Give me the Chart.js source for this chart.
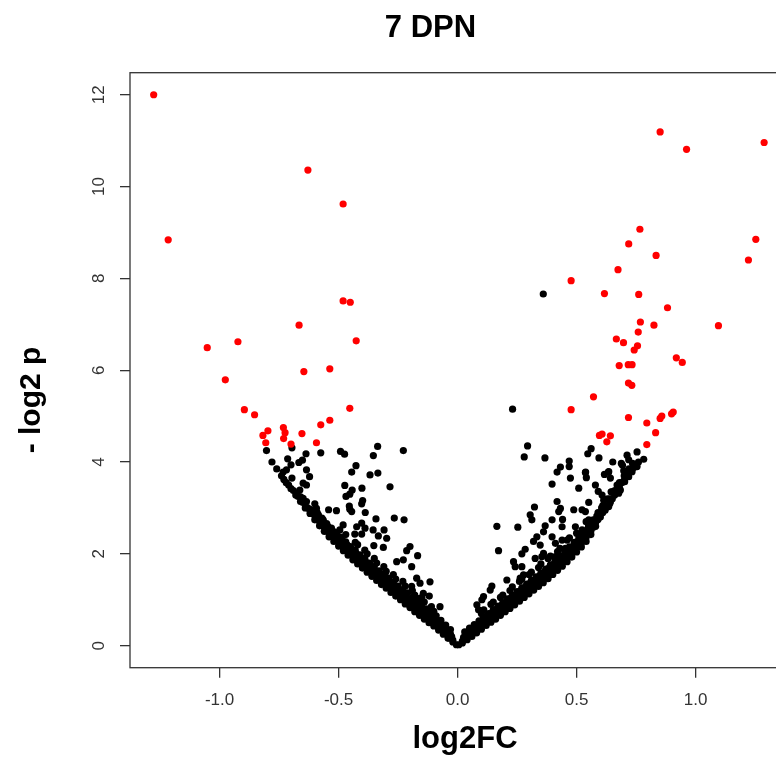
<!DOCTYPE html>
<html>
<head>
<meta charset="utf-8">
<title>7 DPN</title>
<script src="https://cdn.jsdelivr.net/npm/chart.js@4.4.1/dist/chart.umd.min.js"></script>
<style>
  html, body { margin: 0; padding: 0; background: #fff; overflow: hidden; }
  #wrap { width: 776px; height: 760px; overflow: hidden; }
</style>
</head>
<body>
<div id="wrap"><canvas id="chart" width="820" height="760"></canvas></div>
<script>
// Volcano plot 7 DPN: log2FC gegen -log2 p, rot = signifikant.
const TITLE = '7 DPN';
const X_LABEL = 'log2FC';
const Y_LABEL = '- log2 p';

const xTicks = [-1.0, -0.5, 0.0, 0.5, 1.0];
const yTicks = [0, 2, 4, 6, 8, 10, 12];
const X_MIN = -1.3765, X_MAX = 1.4387;
const Y_MIN = -0.48, Y_MAX = 12.48;

// signifikant, herunterreguliert [log2FC, -log2 p]
const sigDown = [
  [-1.277, 12.00], [-0.629, 10.36], [-0.481, 9.62], [-1.216, 8.84], [-0.481, 7.51], [-0.451, 7.48],
  [-0.666, 6.98], [-0.923, 6.62], [-1.052, 6.49], [-0.426, 6.64], [-0.646, 5.97], [-0.537, 6.03],
  [-0.976, 5.79], [-0.896, 5.14], [-0.853, 5.03], [-0.453, 5.17], [-0.537, 4.91], [-0.575, 4.81],
  [-0.797, 4.68], [-0.818, 4.58], [-0.732, 4.75], [-0.725, 4.64], [-0.731, 4.51], [-0.806, 4.42],
  [-0.654, 4.62], [-0.700, 4.39], [-0.593, 4.42]
];
// signifikant, hochreguliert
const sigUp = [
  [0.851, 11.19], [0.962, 10.81], [1.288, 10.96], [0.766, 9.07], [0.719, 8.75], [0.834, 8.50],
  [1.253, 8.85], [1.222, 8.40], [0.674, 8.19], [0.477, 7.95], [0.617, 7.67], [0.761, 7.65],
  [0.882, 7.36], [0.768, 7.05], [0.825, 6.98], [1.096, 6.97], [0.759, 6.83], [0.667, 6.68],
  [0.697, 6.60], [0.756, 6.53], [0.742, 6.44], [0.919, 6.27], [0.944, 6.17], [0.679, 6.10],
  [0.717, 6.12], [0.733, 6.12], [0.718, 5.72], [0.732, 5.67], [0.571, 5.42], [0.477, 5.14],
  [0.718, 4.97], [0.795, 4.85], [0.851, 4.95], [0.858, 5.00], [0.899, 5.05], [0.906, 5.09],
  [0.832, 4.64], [0.596, 4.58], [0.607, 4.61], [0.642, 4.57], [0.627, 4.44], [0.795, 4.38]
];
// nicht signifikant, links
const nsLeft = [
  [-0.803, 4.25], [-0.696, 4.31], [-0.637, 4.18], [-0.575, 4.20], [-0.492, 4.23], [-0.475, 4.17],
  [-0.336, 4.34], [-0.354, 4.14], [-0.228, 4.25], [-0.714, 4.07], [-0.700, 3.94], [-0.667, 3.99],
  [-0.652, 4.04], [-0.635, 3.83], [-0.427, 3.92], [-0.445, 3.78], [-0.368, 3.72], [-0.335, 3.76],
  [-0.733, 3.78], [-0.696, 3.65], [-0.622, 3.68], [-0.719, 3.83], [-0.649, 3.54], [-0.635, 3.50],
  [-0.663, 3.39], [-0.677, 3.32], [-0.649, 3.21], [-0.635, 3.14], [-0.284, 3.46], [-0.474, 3.49],
  [-0.443, 3.39], [-0.402, 3.43], [-0.469, 3.25], [-0.453, 3.30], [-0.399, 3.16], [-0.403, 3.09],
  [-0.455, 3.04], [-0.445, 2.92], [-0.453, 2.97], [-0.388, 2.90], [-0.343, 2.76], [-0.266, 2.78],
  [-0.225, 2.74], [-0.542, 2.96], [-0.509, 2.94], [-0.600, 3.09], [-0.593, 2.99], [-0.586, 2.81],
  [-0.565, 2.74], [-0.481, 2.63], [-0.495, 2.52], [-0.424, 2.59], [-0.403, 2.67], [-0.389, 2.56],
  [-0.432, 2.43], [-0.403, 2.43], [-0.355, 2.52], [-0.333, 2.39], [-0.309, 2.52], [-0.298, 2.34],
  [-0.352, 2.18], [-0.312, 2.14], [-0.200, 2.16], [-0.214, 2.07], [-0.168, 1.96], [-0.228, 1.87],
  [-0.256, 1.83], [-0.193, 1.72], [-0.116, 1.39], [-0.119, 1.08], [-0.074, 0.85], [-0.319, 1.50],
  [-0.305, 1.58], [-0.172, 1.47], [-0.193, 1.29], [-0.158, 1.36], [-0.144, 1.14], [-0.158, 1.03],
  [-0.005, 0.02], [-0.02, 0.08], [-0.02, 0.12], [-0.025, 0.20], [-0.04, 0.16], [-0.04, 0.22], [-0.045, 0.30],
  [-0.06, 0.25], [-0.06, 0.32], [-0.065, 0.45], [-0.08, 0.34], [-0.08, 0.40], [-0.085, 0.55],
  [-0.10, 0.43], [-0.10, 0.50], [-0.105, 0.62], [-0.10, 0.75], [-0.12, 0.50], [-0.12, 0.58], [-0.125, 0.70],
  [-0.14, 0.58], [-0.14, 0.66], [-0.145, 0.80], [-0.14, 0.95], [-0.16, 0.66], [-0.16, 0.74], [-0.165, 0.86],
  [-0.18, 0.74], [-0.18, 0.82], [-0.185, 0.95], [-0.18, 1.10], [-0.20, 0.83], [-0.20, 0.92], [-0.205, 1.02],
  [-0.22, 0.91], [-0.22, 1.00], [-0.225, 1.12], [-0.22, 1.30], [-0.24, 1.00], [-0.24, 1.08], [-0.245, 1.20],
  [-0.26, 1.08], [-0.26, 1.17], [-0.265, 1.30], [-0.26, 1.45], [-0.28, 1.16], [-0.28, 1.25], [-0.285, 1.38],
  [-0.30, 1.25], [-0.30, 1.34], [-0.305, 1.46], [-0.30, 1.62], [-0.32, 1.33], [-0.32, 1.42], [-0.325, 1.55],
  [-0.34, 1.42], [-0.34, 1.50], [-0.345, 1.63], [-0.34, 1.80], [-0.36, 1.51], [-0.36, 1.60], [-0.365, 1.72],
  [-0.38, 1.60], [-0.38, 1.69], [-0.385, 1.82], [-0.38, 2.00], [-0.40, 1.69], [-0.40, 1.78], [-0.405, 1.90],
  [-0.42, 1.78], [-0.42, 1.87], [-0.425, 2.00], [-0.42, 2.20], [-0.44, 1.87], [-0.44, 1.96], [-0.445, 2.10],
  [-0.46, 1.97], [-0.46, 2.06], [-0.465, 2.20], [-0.48, 2.07], [-0.48, 2.16], [-0.485, 2.30],
  [-0.50, 2.17], [-0.50, 2.26], [-0.505, 2.40], [-0.52, 2.27], [-0.52, 2.36], [-0.525, 2.50],
  [-0.54, 2.37], [-0.54, 2.46], [-0.545, 2.60], [-0.56, 2.49], [-0.56, 2.58], [-0.565, 2.72],
  [-0.58, 2.61], [-0.58, 2.70], [-0.585, 2.85], [-0.60, 2.74], [-0.60, 2.83], [-0.62, 2.88], [-0.62, 2.97],
  [-0.64, 3.00], [-0.64, 3.10], [-0.66, 3.14], [-0.66, 3.24], [-0.68, 3.28], [-0.70, 3.42],
  [-0.72, 3.55], [-0.74, 3.70], [-0.76, 3.85], [-0.78, 4.00],
  [-0.03, 0.25], [-0.03, 0.35], [-0.05, 0.33], [-0.05, 0.45], [-0.07, 0.42], [-0.07, 0.55],
  [-0.09, 0.50], [-0.09, 0.65], [-0.11, 0.58], [-0.11, 0.72], [-0.11, 0.85], [-0.13, 0.66], [-0.13, 0.80],
  [-0.15, 0.75], [-0.15, 0.90], [-0.15, 1.05], [-0.17, 0.83], [-0.17, 0.98], [-0.19, 0.90], [-0.19, 1.05],
  [-0.19, 1.20], [-0.21, 0.98], [-0.21, 1.15], [-0.23, 1.06], [-0.23, 1.22], [-0.23, 1.40], [-0.25, 1.14],
  [-0.25, 1.30], [-0.27, 1.22], [-0.27, 1.38], [-0.27, 1.55], [-0.29, 1.30], [-0.29, 1.47], [-0.31, 1.38],
  [-0.31, 1.55], [-0.31, 1.72], [-0.33, 1.47], [-0.33, 1.63], [-0.35, 1.55], [-0.35, 1.72], [-0.35, 1.90],
  [-0.37, 1.64], [-0.37, 1.80], [-0.39, 1.73], [-0.39, 1.90], [-0.39, 2.08], [-0.41, 1.82], [-0.41, 1.98],
  [-0.43, 1.91], [-0.43, 2.08], [-0.43, 2.25], [-0.45, 2.00], [-0.45, 2.16], [-0.47, 2.10], [-0.47, 2.26],
  [-0.47, 2.42], [-0.49, 2.20], [-0.49, 2.36], [-0.51, 2.30], [-0.51, 2.46], [-0.53, 2.40], [-0.53, 2.56],
  [-0.55, 2.50], [-0.55, 2.66], [-0.57, 2.62], [-0.57, 2.78], [-0.59, 2.75], [-0.59, 2.90], [-0.61, 2.88],
  [-0.63, 3.00], [-0.65, 3.12], [-0.67, 3.25], [-0.69, 3.38], [-0.71, 3.50], [-0.73, 3.62]
];
// nicht signifikant, rechts
const nsRight = [
  [0.360, 7.66], [0.231, 5.15], [0.294, 4.35], [0.280, 4.11], [0.367, 4.09], [0.469, 4.02],
  [0.469, 3.90], [0.432, 3.89], [0.418, 3.78], [0.547, 4.18], [0.561, 4.29], [0.594, 4.09],
  [0.652, 4.00], [0.712, 4.15], [0.754, 4.22], [0.782, 4.06], [0.693, 3.93], [0.735, 3.97],
  [0.754, 3.90], [0.538, 3.78], [0.634, 3.78], [0.617, 3.73], [0.698, 3.81], [0.397, 3.52],
  [0.474, 3.65], [0.509, 3.43], [0.537, 3.77], [0.541, 3.66], [0.579, 3.50], [0.688, 3.97],
  [0.719, 4.05], [0.635, 3.79], [0.642, 3.65], [0.702, 3.57], [0.719, 3.68], [0.733, 3.79],
  [0.591, 3.36], [0.607, 3.28], [0.614, 3.17], [0.635, 3.03], [0.642, 3.14], [0.677, 3.32],
  [0.684, 3.39], [0.523, 2.96], [0.537, 2.92], [0.551, 3.12], [0.488, 2.96], [0.418, 3.14],
  [0.432, 2.99], [0.425, 2.92], [0.323, 3.02], [0.305, 2.85], [0.312, 2.74], [0.397, 2.74],
  [0.441, 2.75], [0.368, 2.61], [0.361, 2.48], [0.165, 2.60], [0.253, 2.58], [0.333, 2.37],
  [0.319, 2.27], [0.347, 2.19], [0.361, 2.01], [0.326, 1.90], [0.354, 1.94], [0.284, 2.10],
  [0.270, 2.00], [0.172, 2.07], [0.235, 1.83], [0.242, 1.72], [0.270, 1.72], [0.277, 1.54],
  [0.263, 1.47], [0.207, 1.43], [0.144, 1.30], [0.137, 1.21], [0.109, 1.07], [0.102, 1.00],
  [0.081, 0.89], [0.088, 0.78], [0.397, 2.37], [0.411, 2.23], [0.439, 2.30], [0.453, 2.12],
  [0.411, 1.94], [0.453, 1.94], [0.439, 2.59], [0.495, 2.59], [0.523, 2.52], [0.551, 2.74], [0.565, 2.67],
  [0.005, 0.02], [0.02, 0.06], [0.02, 0.10], [0.025, 0.18], [0.04, 0.13], [0.04, 0.20], [0.045, 0.28],
  [0.06, 0.20], [0.06, 0.27], [0.065, 0.38], [0.08, 0.28], [0.08, 0.35], [0.085, 0.46],
  [0.10, 0.36], [0.10, 0.44], [0.105, 0.56], [0.10, 0.70], [0.12, 0.44], [0.12, 0.52], [0.125, 0.64],
  [0.14, 0.51], [0.14, 0.60], [0.145, 0.72], [0.14, 0.90], [0.16, 0.58], [0.16, 0.67], [0.165, 0.80],
  [0.18, 0.66], [0.18, 0.74], [0.185, 0.88], [0.18, 1.05], [0.20, 0.74], [0.20, 0.82], [0.205, 0.95],
  [0.22, 0.81], [0.22, 0.90], [0.225, 1.04], [0.22, 1.20], [0.24, 0.89], [0.24, 0.98], [0.245, 1.10],
  [0.26, 0.97], [0.26, 1.06], [0.265, 1.20], [0.26, 1.40], [0.28, 1.05], [0.28, 1.14], [0.285, 1.28],
  [0.30, 1.13], [0.30, 1.22], [0.305, 1.36], [0.30, 1.55], [0.32, 1.21], [0.32, 1.30], [0.325, 1.44],
  [0.34, 1.29], [0.34, 1.38], [0.345, 1.52], [0.34, 1.70], [0.36, 1.37], [0.36, 1.46], [0.365, 1.60],
  [0.38, 1.46], [0.38, 1.55], [0.385, 1.70], [0.38, 1.90], [0.40, 1.55], [0.40, 1.64], [0.405, 1.78],
  [0.42, 1.64], [0.42, 1.73], [0.425, 1.88], [0.42, 2.05], [0.44, 1.73], [0.44, 1.82], [0.445, 1.96],
  [0.46, 1.83], [0.46, 1.92], [0.465, 2.06], [0.46, 2.30], [0.48, 1.93], [0.48, 2.02], [0.485, 2.16],
  [0.50, 2.04], [0.50, 2.13], [0.505, 2.28], [0.50, 2.45], [0.52, 2.15], [0.52, 2.24], [0.525, 2.40],
  [0.54, 2.27], [0.54, 2.36], [0.545, 2.52], [0.54, 2.70], [0.56, 2.42], [0.56, 2.50], [0.565, 2.65],
  [0.58, 2.60], [0.58, 2.68], [0.585, 2.82], [0.60, 2.80], [0.60, 2.88], [0.605, 3.00],
  [0.62, 2.95], [0.62, 3.05], [0.64, 3.10], [0.64, 3.20], [0.645, 3.35], [0.66, 3.28], [0.66, 3.38],
  [0.68, 3.45], [0.68, 3.55], [0.70, 3.60], [0.70, 3.70], [0.72, 3.75], [0.72, 3.85], [0.74, 3.88], [0.76, 4.00],
  [0.03, 0.18], [0.03, 0.30], [0.05, 0.25], [0.05, 0.38], [0.07, 0.32], [0.07, 0.46], [0.09, 0.40],
  [0.09, 0.54], [0.11, 0.48], [0.11, 0.62], [0.11, 0.78], [0.13, 0.55], [0.13, 0.70], [0.15, 0.62],
  [0.15, 0.78], [0.15, 0.95], [0.17, 0.70], [0.17, 0.86], [0.19, 0.78], [0.19, 0.94], [0.19, 1.10],
  [0.21, 0.85], [0.21, 1.02], [0.23, 0.93], [0.23, 1.10], [0.23, 1.28], [0.25, 1.01], [0.25, 1.18],
  [0.27, 1.09], [0.27, 1.26], [0.27, 1.45], [0.29, 1.17], [0.29, 1.34], [0.31, 1.25], [0.31, 1.42],
  [0.31, 1.60], [0.33, 1.33], [0.33, 1.50], [0.35, 1.42], [0.35, 1.58], [0.35, 1.78], [0.37, 1.50],
  [0.37, 1.67], [0.39, 1.60], [0.39, 1.76], [0.39, 1.95], [0.41, 1.69], [0.41, 1.86], [0.43, 1.78],
  [0.43, 1.95], [0.43, 2.12], [0.45, 1.88], [0.45, 2.05], [0.47, 1.98], [0.47, 2.15], [0.47, 2.35],
  [0.49, 2.08], [0.49, 2.25], [0.51, 2.20], [0.51, 2.36], [0.53, 2.32], [0.53, 2.48], [0.55, 2.44],
  [0.55, 2.60], [0.57, 2.58], [0.57, 2.74], [0.59, 2.75], [0.59, 2.90], [0.61, 2.90], [0.61, 3.05],
  [0.63, 3.05], [0.63, 3.20], [0.65, 3.20], [0.65, 3.35], [0.67, 3.38], [0.67, 3.50], [0.69, 3.55],
  [0.71, 3.70], [0.73, 3.82]
];

const FONT = '"Liberation Sans", Arial, Helvetica, sans-serif';
const INK = '#333';
const toXY = (arr) => arr.map(([x, y]) => ({ x, y }));

// Rahmen um die Plotflaeche, Titel und y-Beschriftung wie in R
const frame = {
  id: 'frame',
  afterDraw(chart) {
    const { ctx, chartArea: a } = chart;
    ctx.save();
    ctx.strokeStyle = INK;
    ctx.lineWidth = 1.3;
    ctx.strokeRect(a.left, a.top, a.right - a.left, a.bottom - a.top);
    ctx.fillStyle = '#000';
    ctx.font = 'bold 31px ' + FONT;
    ctx.textAlign = 'center';
    ctx.textBaseline = 'alphabetic';
    ctx.fillText(TITLE, 430.5, 37);
    ctx.font = 'bold 30px ' + FONT;
    ctx.translate(40, 400);
    ctx.rotate(-Math.PI / 2);
    ctx.fillText(Y_LABEL, 0, 0);
    ctx.restore();
  }
};

new Chart(document.getElementById('chart'), {
  type: 'scatter',
  data: {
    datasets: [
      { label: 'sig', data: toXY(sigDown.concat(sigUp)), backgroundColor: '#ff0000', borderWidth: 0, pointRadius: 3.6 },
      { label: 'ns', data: toXY(nsLeft.concat(nsRight)), backgroundColor: '#000000', borderWidth: 0, pointRadius: 3.6 }
    ]
  },
  options: {
    responsive: false,
    animation: false,
    layout: { padding: { top: 72.7, right: 20, bottom: 0, left: 0 } },
    plugins: { legend: { display: false }, tooltip: { enabled: false } },
    scales: {
      x: {
        type: 'linear', position: 'bottom', min: X_MIN, max: X_MAX,
        afterBuildTicks: (s) => { s.ticks = xTicks.map((v) => ({ value: v })); },
        afterFit: (s) => { s.height = 92.3; },
        border: { display: false },
        grid: { drawOnChartArea: false, tickLength: 10, color: INK, lineWidth: 1.3 },
        ticks: { color: INK, font: { family: FONT, size: 17 }, padding: 12, callback: (v) => Number(v).toFixed(1) },
        title: { display: true, text: X_LABEL, color: '#000', font: { family: FONT, size: 31, weight: 'bold' }, padding: { top: 0, bottom: 2 } }
      },
      y: {
        type: 'linear', position: 'left', min: Y_MIN, max: Y_MAX,
        afterBuildTicks: (s) => { s.ticks = yTicks.map((v) => ({ value: v })); },
        afterFit: (s) => { s.width = 130; },
        border: { display: false },
        grid: { drawOnChartArea: false, tickLength: 10, color: INK, lineWidth: 1.3 },
        ticks: { color: INK, font: { family: FONT, size: 17 }, minRotation: 90, maxRotation: 90, crossAlign: 'center', padding: 11.5 }
      }
    }
  },
  plugins: [frame]
});
</script>
</body>
</html>
